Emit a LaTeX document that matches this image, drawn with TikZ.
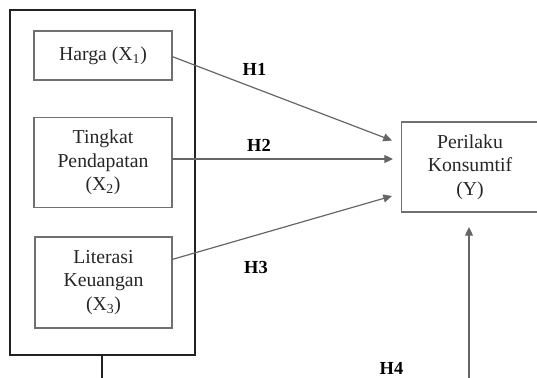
\documentclass[tikz,border=0pt]{standalone}
\usepackage{fontspec}
\setmainfont{Liberation Serif}
\usetikzlibrary{arrows.meta}
\definecolor{boxgray}{HTML}{707070}
\definecolor{linegray}{HTML}{666666}
\definecolor{outerdark}{HTML}{222222}
\begin{document}
\begin{tikzpicture}[x=0.75pt,y=-0.75pt,
  varbox/.style={draw=boxgray,line width=0.9pt,rectangle,align=center,inner sep=0pt,
    font=\fontsize{14.8}{17.6}\selectfont,text=black!85},
  conn/.style={draw=linegray,line width=0.9pt,-{Triangle[length=6.5pt,width=6pt]}},
  hlabel/.style={font=\fontsize{13.8}{16}\selectfont\bfseries,inner sep=0pt,text=black}]
\useasboundingbox (0,0) rectangle (537,378);
\node[draw=outerdark,line width=1.3pt,minimum width=138.75pt,minimum height=258.75pt,inner sep=0pt] (outer) at (102.5,182.5) {};
\node[varbox,minimum width=103.5pt,minimum height=36.75pt] (harga) at (103,55.5) {Harga (X\textsubscript{1})};
\node[varbox,minimum width=103.5pt,minimum height=67.5pt] (tingkat) at (103,162.5) {Tingkat\\Pendapatan\\(X\textsubscript{2})};
\node[varbox,minimum width=102.75pt,minimum height=68.25pt] (literasi) at (103.5,282.5) {Literasi\\Keuangan\\(X\textsubscript{3})};
\node[varbox,minimum width=102.75pt,minimum height=67.5pt] (Y) at (470,167) {Perilaku\\Konsumtif\\(Y)};
\coordinate (t1) at (392,140.5);
\coordinate (t2) at (393,159);
\coordinate (t3) at (392,196);
\coordinate (t4) at (469,227);
\coordinate (b4) at (469,385);
\coordinate (ob) at (102,385);
\coordinate (s1) at (172,56.5);
\coordinate (s2) at (172,159);
\coordinate (s3) at (172,259.5);
\draw[conn] (s1) -- (t1);
\draw[conn] (s2) -- (t2);
\draw[conn] (s3) -- (t3);
\draw[conn] (b4) -- (t4);
\draw[draw=outerdark,line width=0.9pt] (outer.south -| ob) -- (ob);
\node[hlabel] (h1) at (254.5,69.5) {H1};
\node[hlabel] (h2) at (259,145) {H2};
\node[hlabel] (h3) at (256,267) {H3};
\node[hlabel] (h4) at (391.5,368.5) {H4};
\end{tikzpicture}
\end{document}
